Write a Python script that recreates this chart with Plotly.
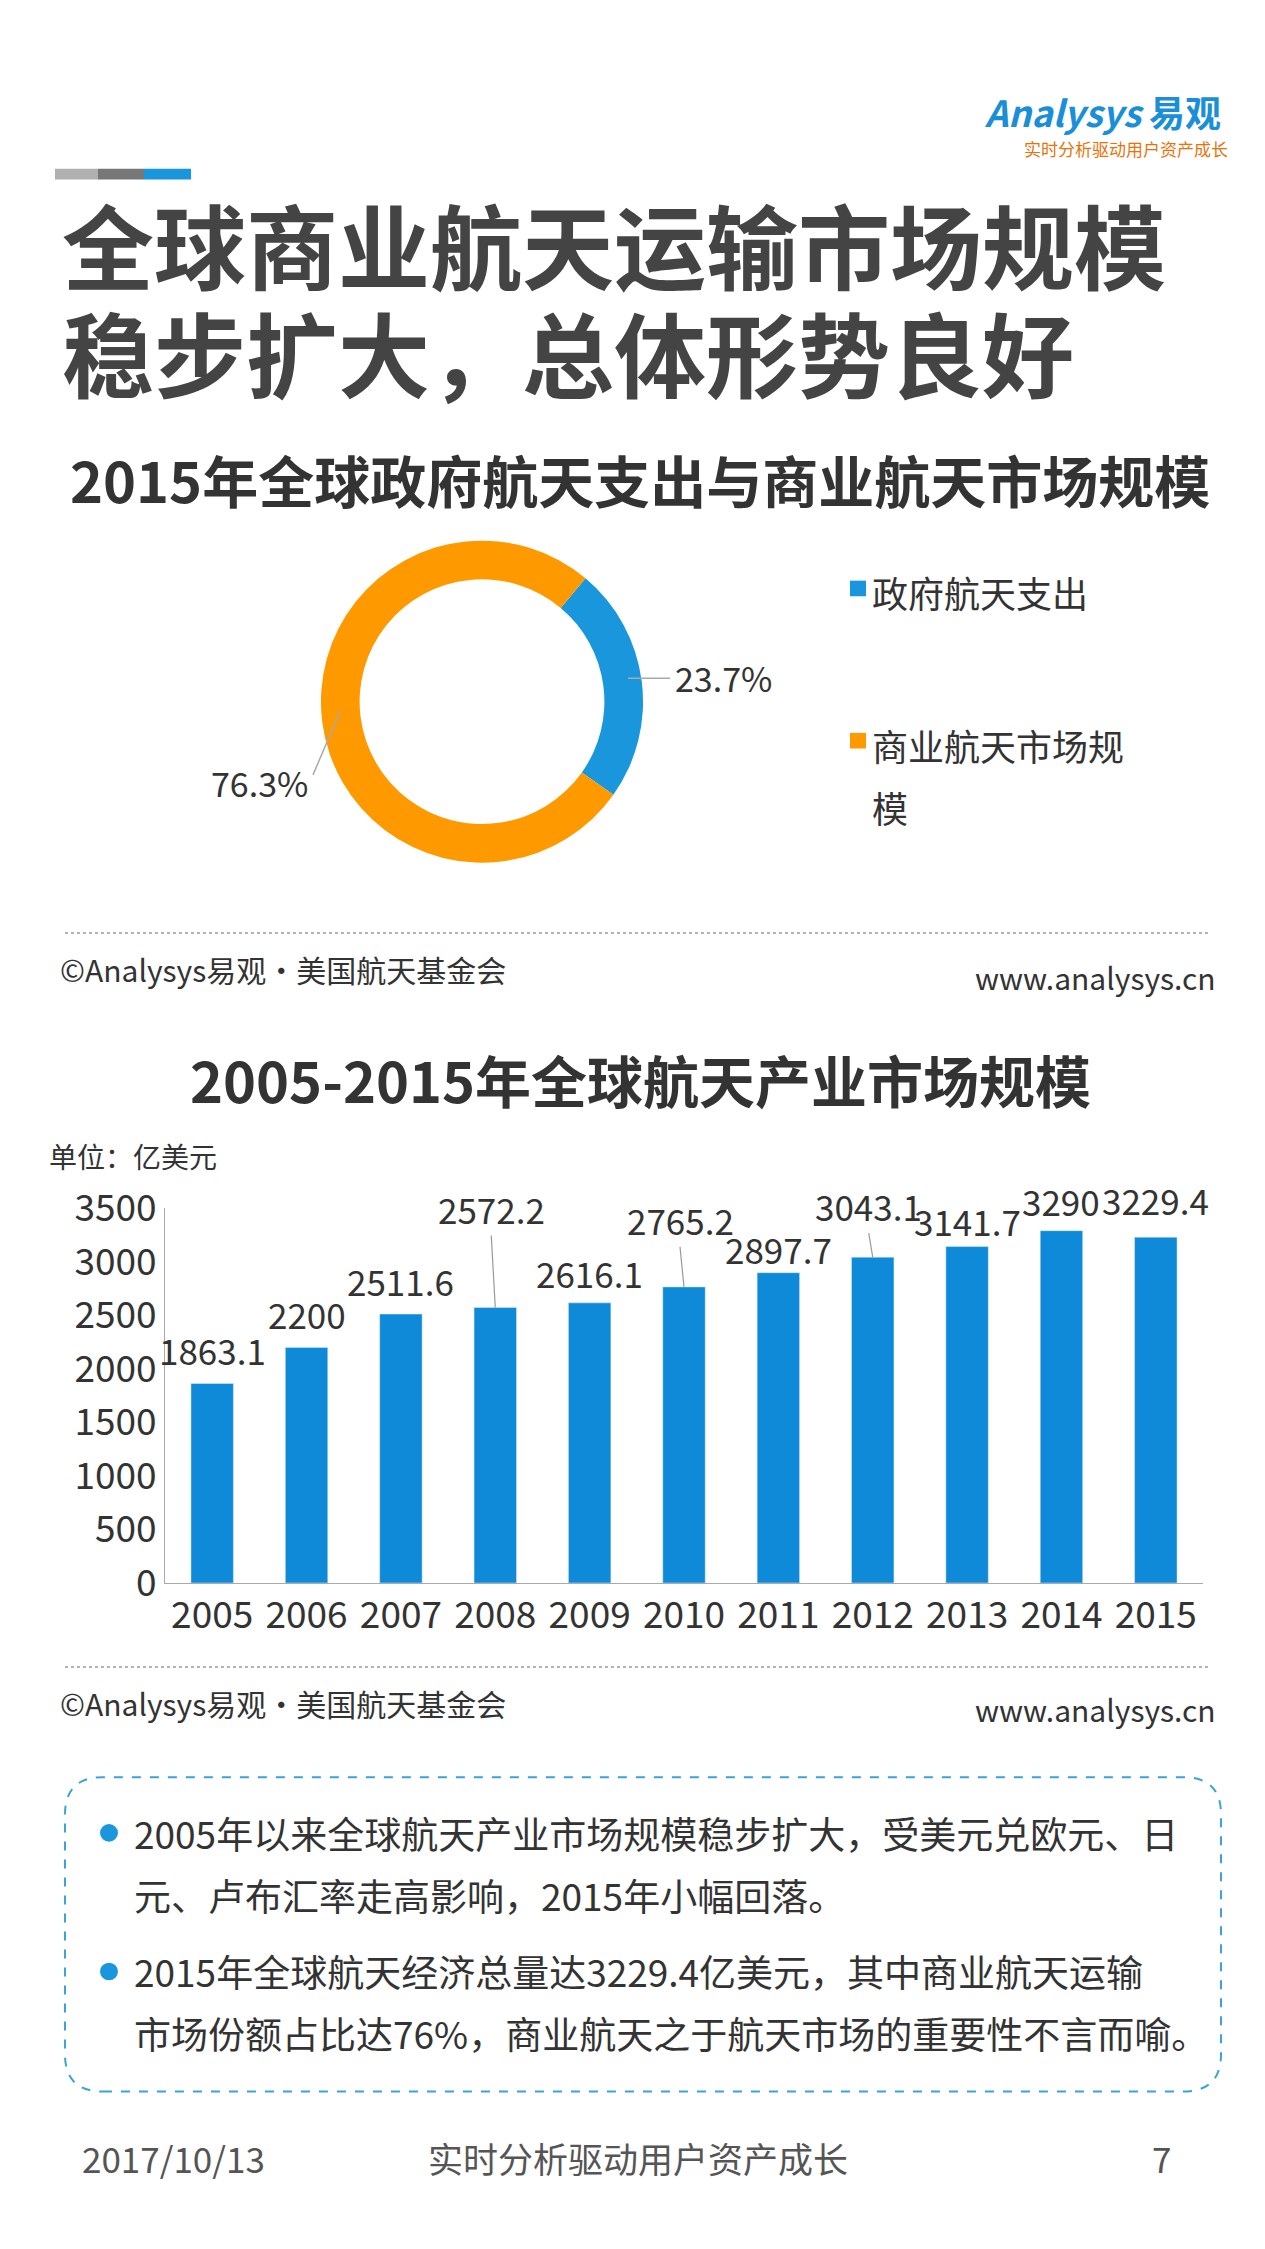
import plotly.graph_objects as go

FONT = "Noto Sans CJK SC"
W, H = 1265, 2249
pie_labels = ["政府航天支出", "商业航天市场规模"]
pie_values = [23.7, 76.3]
pie_colors = ["#1a96dc", "#ff9900"]
years = [str(y) for y in range(2005, 2016)]
market = [1863.1, 2200, 2511.6, 2572.2, 2616.1, 2765.2, 2897.7, 3043.1, 3141.7, 3290, 3229.4]
yticks = [0, 500, 1000, 1500, 2000, 2500, 3000, 3500]
label_lift = [34, 34, 34, 88, 30, 56, 24, 40, 26, 30, 38]   # label offset above bar top (px)
label_leader = [False, False, False, True, False, True, False, True, False, False, False]

def py(p):
    return 1 - p / H

fig = go.Figure()
fig.add_trace(go.Pie(labels=pie_labels, values=pie_values, hole=0.76, sort=False,
                     direction="clockwise", rotation=40, textinfo="none",
                     marker=dict(colors=pie_colors, line=dict(color="white", width=0)),
                     domain=dict(x=[309/W, 639/W], y=[py(845), py(515)]), showlegend=False))
fig.add_trace(go.Bar(x=years, y=market, marker=dict(color="#0e8ad8"), showlegend=False))

fig.update_layout(width=W, height=H, margin=dict(l=0, r=0, t=0, b=0),
                  paper_bgcolor="white", plot_bgcolor="white", bargap=0.55,
                  font=dict(family=FONT, color="#333"),
                  xaxis=dict(type="category", range=[-0.5, len(years) - 0.5], autorange=False,
                             domain=[157/W, 1195/W], showline=True, linecolor="#aaa",
                             tickfont=dict(size=37, color="#333"), ticks="", fixedrange=True),
                  yaxis=dict(domain=[py(1583), py(1199)], range=[0, 3500], autorange=False, tickvals=yticks,
                             showgrid=False, showline=True, linecolor="#aaa", zeroline=False,
                             tickfont=dict(size=37, color="#333")))

ann = []
for i, (v, lift, lead) in enumerate(zip(market, label_lift, label_leader)):
    if lead:
        ann.append(dict(x=i, y=v, xref="x", yref="y", text=f"{v:g}", showarrow=True, arrowhead=0,
                        arrowcolor="#999", arrowwidth=1.2, ax=-4, ay=-(lift - 16), yanchor="bottom",
                        font=dict(size=35, color="#333", family=FONT)))
    else:
        ann.append(dict(x=i, y=v, xref="x", yref="y", text=f"{v:g}", showarrow=False,
                        yshift=lift, yanchor="middle", font=dict(size=35, color="#333", family=FONT)))

def t(x, y, s, size, color="#333", anchor="left", bold=False):
    ann.append(dict(x=x/W, y=py(y), xref="paper", yref="paper", text=f"<b>{s}</b>" if bold else s,
                    showarrow=False, xanchor=anchor, yanchor="middle",
                    font=dict(size=size, color=color, family=FONT)))

t(1215, 75, "<i>Analysys</i> 易观", 36, "#1a8fd8", "right", True)
t(1222, 113, "实时分析驱动用户资产成长", 17, "#e8730c", "right")
t(52, 210, "全球商业航天运输市场规模", 92, "#444", bold=True)
t(52, 320, "稳步扩大，总体形势良好", 92, "#444", bold=True)
t(632, 451, "2015年全球政府航天支出与商业航天市场规模", 56, "#333", "center", True)
t(665, 655, "23.7%", 34)
t(302, 763, "76.3%", 34, anchor="right")
t(862, 568, "政府航天支出", 36)
t(862, 724, "商业航天市场规", 36)
t(862, 788, "模", 36)
t(50, 954, "©Analysys易观·美国航天基金会", 30)
t(1210, 962, "www.analysys.cn", 30, anchor="right")
t(632, 1066, "2005-2015年全球航天产业市场规模", 56, "#333", "center", True)
t(39, 1145, "单位：亿美元", 28)
t(50, 1706, "©Analysys易观·美国航天基金会", 30)
t(1210, 1712, "www.analysys.cn", 30, anchor="right")
lines = ["2005年以来全球航天产业市场规模稳步扩大，受美元兑欧元、日",
         "元、卢布汇率走高影响，2015年小幅回落。",
         "2015年全球航天经济总量达3229.4亿美元，其中商业航天运输",
         "市场份额占比达76%，商业航天之于航天市场的重要性不言而喻。"]
for s, y in zip(lines, [1839, 1903, 1981, 2044]):
    t(124, y, s, 37)
t(72, 2172, "2017/10/13", 35, "#555")
t(630, 2172, "实时分析驱动用户资产成长", 35, "#555", "center")
t(1165, 2172, "7", 35, "#555", "right")
fig.update_layout(annotations=ann)

shapes = []
def rect(x0, y0, x1, y1, c):
    shapes.append(dict(type="rect", xref="paper", yref="paper", x0=x0/W, x1=x1/W, y0=py(y1), y1=py(y0),
                       fillcolor=c, line=dict(width=0)))
rect(47, 134, 90, 145, "#b0b0b0")
rect(90, 134, 136, 145, "#777")
rect(136, 134, 183, 145, "#1a96dc")
rect(842, 556, 858, 572, "#1a96dc")
rect(842, 712, 858, 728, "#ff9900")
for y in [917, 1669]:
    shapes.append(dict(type="line", xref="paper", yref="paper", x0=57/W, x1=1202/W, y0=py(y), y1=py(y),
                       line=dict(color="#999", width=1.5, dash="dot")))
shapes.append(dict(type="line", xref="paper", yref="paper", x0=620/W, x1=662/W, y0=py(656), y1=py(656),
                   line=dict(color="#aaa", width=1.5)))
shapes.append(dict(type="line", xref="paper", yref="paper", x0=305/W, x1=332/W, y0=py(755), y1=py(690),
                   line=dict(color="#aaa", width=1.5)))
x0, x1, y0, y1, r = 57/W, 1213/W, py(2104), py(1782), 0.03
ry = r * W / H
path = (f"M {x0+r},{y0} L {x1-r},{y0} Q {x1},{y0} {x1},{y0+ry} L {x1},{y1-ry} Q {x1},{y1} {x1-r},{y1} "
        f"L {x0+r},{y1} Q {x0},{y1} {x0},{y1-ry} L {x0},{y0+ry} Q {x0},{y0} {x0+r},{y0} Z")
shapes.append(dict(type="path", xref="paper", yref="paper", path=path,
                   line=dict(color="#3aa3d8", width=2, dash="dash")))
for y in [1839, 1981]:
    shapes.append(dict(type="circle", xref="paper", yref="paper", x0=92/W, x1=110/W, y0=py(y+9), y1=py(y-9),
                       fillcolor="#1a96dc", line=dict(width=0)))
fig.update_layout(shapes=shapes)
fig.write_html("out.html")
